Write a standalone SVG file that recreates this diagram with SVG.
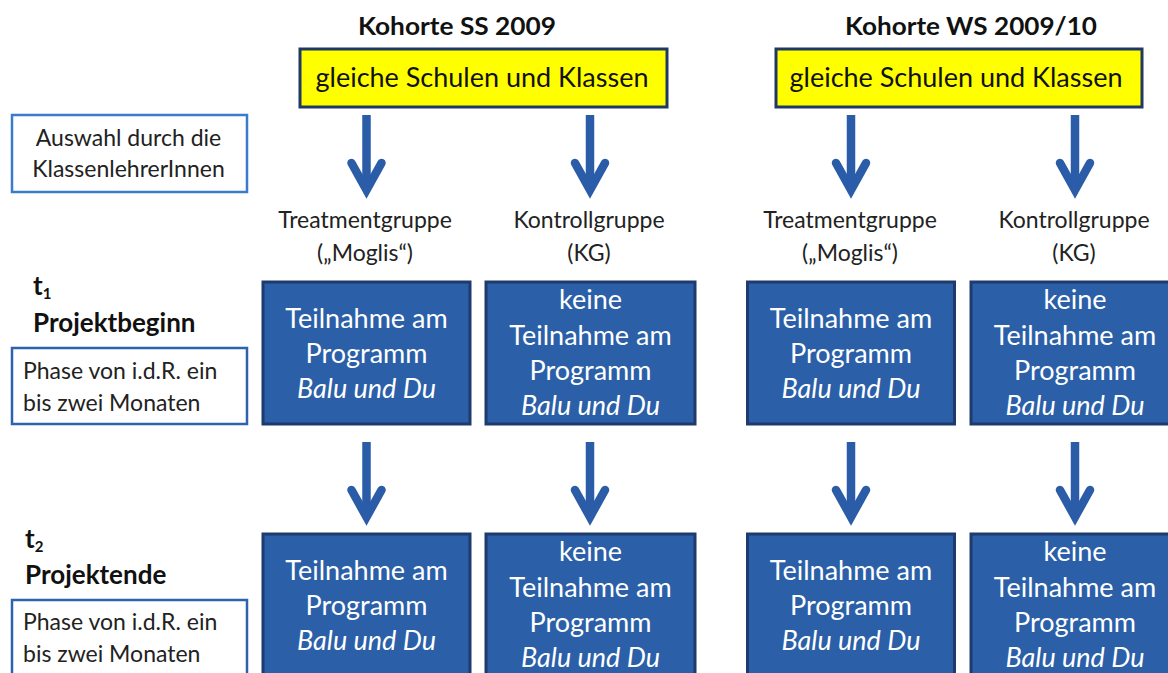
<svg xmlns="http://www.w3.org/2000/svg" width="1168" height="673" viewBox="0 0 1168 673">
<style>
text{font-family:Lato,"Liberation Sans",sans-serif;fill:#111}
.title{font-weight:bold;font-size:25px;text-anchor:middle}
.yel{fill:#ffff00;stroke:#1f3864;stroke-width:3}
.ytxt{font-size:27px;text-anchor:middle}
.lbl{font-size:23px;text-anchor:middle;fill:#222}
.side{fill:#fff;stroke:#2f62ad;stroke-width:2.5}
.side2{fill:#fff;stroke:#3a7bcb;stroke-width:2.5}
.stxt{font-size:23px;fill:#222}
.tlab{font-size:26px;font-weight:bold}
.sub{font-size:15px}
.blue{fill:#2b5fa8;stroke:#1f3b6e;stroke-width:3}
.btxt{font-size:27px;fill:#fff;text-anchor:middle}
.it{font-style:italic}
.arr{fill:none;stroke:#2a5ca8;stroke-width:8.5;stroke-linejoin:miter;stroke-miterlimit:10}
</style>

<g id="title-ss"><text class="title" x="457" y="35" textLength="198" lengthAdjust="spacingAndGlyphs">Kohorte SS 2009</text></g>
<g id="title-ws"><text class="title" x="971" y="35" textLength="252" lengthAdjust="spacingAndGlyphs">Kohorte WS 2009/10</text></g>

<g id="yellow-ss"><rect class="yel" x="300" y="49" width="367" height="58"/><text class="ytxt" x="482" y="87">gleiche Schulen und Klassen</text></g>
<g id="yellow-ws"><rect class="yel" x="776" y="49" width="366" height="58"/><text class="ytxt" x="956" y="87">gleiche Schulen und Klassen</text></g>

<g id="auswahl"><rect class="side2" x="12" y="115" width="235" height="77"/><text class="stxt" text-anchor="middle" x="128.5" y="146">Auswahl durch die</text><text class="stxt" text-anchor="middle" x="128.5" y="177">KlassenlehrerInnen</text></g>

<g id="lbl-t1"><text class="lbl" x="365" y="228">Treatmentgruppe</text><text class="lbl" x="365" y="261">(„Moglis“)</text></g>
<g id="lbl-k1"><text class="lbl" x="589" y="228">Kontrollgruppe</text><text class="lbl" x="589" y="261">(KG)</text></g>
<g id="lbl-t2"><text class="lbl" x="850" y="228">Treatmentgruppe</text><text class="lbl" x="850" y="261">(„Moglis“)</text></g>
<g id="lbl-k2"><text class="lbl" x="1074" y="228">Kontrollgruppe</text><text class="lbl" x="1074" y="261">(KG)</text></g>

<g id="t1"><text class="tlab" x="33" y="295">t<tspan class="sub" dy="4">1</tspan></text><text class="tlab" x="33" y="332">Projektbeginn</text></g>
<g id="phase1"><rect class="side" x="12" y="348" width="235" height="76"/><text class="stxt" x="23" y="379">Phase von i.d.R. ein</text><text class="stxt" x="23" y="411">bis zwei Monaten</text></g>

<g id="t2"><text class="tlab" x="25" y="548">t<tspan class="sub" dy="4">2</tspan></text><text class="tlab" x="25" y="584">Projektende</text></g>
<g id="phase2"><rect class="side" x="12" y="600" width="235" height="76"/><text class="stxt" x="23" y="630">Phase von i.d.R. ein</text><text class="stxt" x="23" y="662">bis zwei Monaten</text></g>

<g id="box-a1"><rect class="blue" x="263" y="282" width="207" height="142"/><text class="btxt" x="366.5" y="328">Teilnahme am</text><text class="btxt" x="366.5" y="363">Programm</text><text class="btxt it" x="366.5" y="398">Balu und Du</text></g>
<g id="box-b1"><rect class="blue" x="486" y="282" width="209" height="142"/><text class="btxt" x="590.5" y="309">keine</text><text class="btxt" x="590.5" y="345">Teilnahme am</text><text class="btxt" x="590.5" y="380">Programm</text><text class="btxt it" x="590.5" y="415">Balu und Du</text></g>
<g id="box-c1"><rect class="blue" x="747.5" y="282" width="207" height="142"/><text class="btxt" x="851" y="328">Teilnahme am</text><text class="btxt" x="851" y="363">Programm</text><text class="btxt it" x="851" y="398">Balu und Du</text></g>
<g id="box-d1"><rect class="blue" x="971" y="282" width="210" height="142"/><text class="btxt" x="1075" y="309">keine</text><text class="btxt" x="1075" y="345">Teilnahme am</text><text class="btxt" x="1075" y="380">Programm</text><text class="btxt it" x="1075" y="415">Balu und Du</text></g>

<g id="box-a2"><rect class="blue" x="263" y="534" width="207" height="142"/><text class="btxt" x="366.5" y="580">Teilnahme am</text><text class="btxt" x="366.5" y="615">Programm</text><text class="btxt it" x="366.5" y="650">Balu und Du</text></g>
<g id="box-b2"><rect class="blue" x="486" y="534" width="209" height="142"/><text class="btxt" x="590.5" y="561">keine</text><text class="btxt" x="590.5" y="597">Teilnahme am</text><text class="btxt" x="590.5" y="632">Programm</text><text class="btxt it" x="590.5" y="667">Balu und Du</text></g>
<g id="box-c2"><rect class="blue" x="747.5" y="534" width="207" height="142"/><text class="btxt" x="851" y="580">Teilnahme am</text><text class="btxt" x="851" y="615">Programm</text><text class="btxt it" x="851" y="650">Balu und Du</text></g>
<g id="box-d2"><rect class="blue" x="971" y="534" width="210" height="142"/><text class="btxt" x="1075" y="561">keine</text><text class="btxt" x="1075" y="597">Teilnahme am</text><text class="btxt" x="1075" y="632">Programm</text><text class="btxt it" x="1075" y="667">Balu und Du</text></g>

<g id="connectors">
<path class="arr" d="M366.5,115 V188"/><path class="arr" stroke-linecap="round" d="M351.5,163 L366.5,190 L381.5,163"/>
<path class="arr" d="M590,115 V188"/><path class="arr" stroke-linecap="round" d="M575,163 L590,190 L605,163"/>
<path class="arr" d="M851,115 V188"/><path class="arr" stroke-linecap="round" d="M836,163 L851,190 L866,163"/>
<path class="arr" d="M1075,115 V188"/><path class="arr" stroke-linecap="round" d="M1060,163 L1075,190 L1090,163"/>
<path class="arr" d="M366.5,442 V515"/><path class="arr" stroke-linecap="round" d="M351.5,490 L366.5,517 L381.5,490"/>
<path class="arr" d="M590,442 V515"/><path class="arr" stroke-linecap="round" d="M575,490 L590,517 L605,490"/>
<path class="arr" d="M851,442 V515"/><path class="arr" stroke-linecap="round" d="M836,490 L851,517 L866,490"/>
<path class="arr" d="M1075,442 V515"/><path class="arr" stroke-linecap="round" d="M1060,490 L1075,517 L1090,490"/>
</g>
</svg>
